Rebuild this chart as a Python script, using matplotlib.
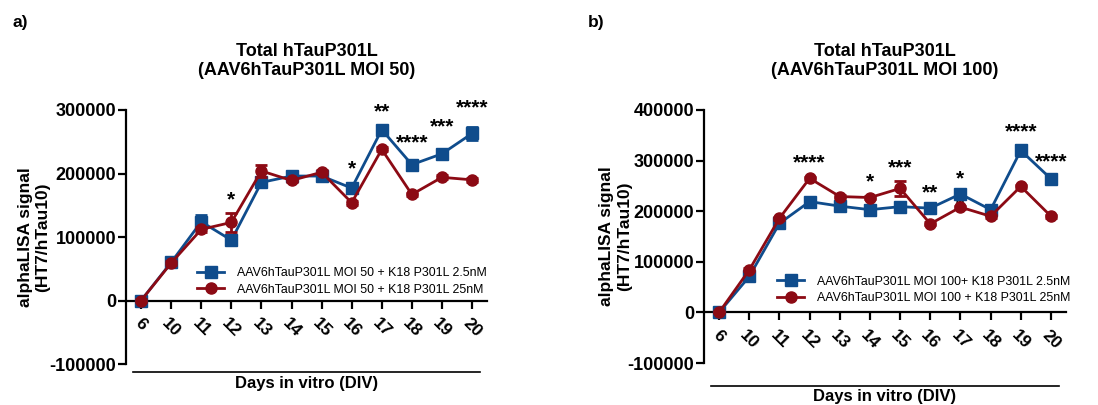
import numpy as np
import matplotlib
matplotlib.use("Agg")
import matplotlib.pyplot as plt
from matplotlib.lines import Line2D

plt.rcParams['font.family'] = ['Liberation Sans', 'DejaVu Sans']
plt.rcParams['axes.unicode_minus'] = False

# categories (days in vitro)
days = ['6', '10', '11', '12', '13', '14', '15', '16', '17', '18', '19', '20']

# panel a, MOI 50
a_low = [0, 60000, 124000, 95000, 186000, 196000, 196000, 177000, 269000, 214000, 231000, 263000]
a_low_err = [2000, 3000, 10000, 4000, 4000, 5000, 7000, 4000, 4000, 3000, 3000, 10000]
a_high = [0, 59000, 112000, 123000, 204000, 189000, 202000, 154000, 238000, 167000, 194000, 190000]
a_high_err = [2000, 3000, 4000, 15000, 9000, 3000, 3000, 3000, 3000, 3000, 3000, 3000]
a_star_idx = [3, 7, 8, 9, 10, 11]
a_star_txt = ['*', '*', '**', '****', '***', '****']
a_star_y = [150000, 198000, 288000, 239000, 264000, 295000]

# panel b, MOI 100
b_low = [0, 71000, 176000, 219000, 210000, 203000, 209000, 206000, 234000, 203000, 320000, 264000]
b_low_err = [2000, 3000, 8000, 3000, 3000, 3000, 3000, 3000, 4000, 3000, 10000, 3000]
b_high = [0, 84000, 186000, 265000, 229000, 227000, 245000, 175000, 208000, 190000, 249000, 190000]
b_high_err = [2000, 3000, 3000, 3000, 3000, 3000, 14000, 3000, 3000, 3000, 3000, 3000]
b_star_idx = [3, 5, 6, 7, 8, 8, 10, 11]
b_star_txt = ['****', '*', '***', '**', '*', '*', '****', '****']
b_star_y = [285000, 248000, 274000, 225000, 252000, 198000, 346000, 287000]

blue = '#0f4c8c'
red = '#8c0a14'


def draw_panel(ax, low, low_err, high, high_err, ylim, yticks, labels,
               star_idx, star_txt, star_y, title, leg_xy, line_y, xlab_y):
    x = np.arange(len(days))
    ax.errorbar(x, low, yerr=low_err, color=blue, marker='s', ms=8, lw=2,
                capsize=4, capthick=2, elinewidth=2, zorder=3)
    ax.errorbar(x, high, yerr=high_err, color=red, marker='o', ms=8, lw=2,
                capsize=4, capthick=2, elinewidth=2, zorder=4)

    ax.set_xlim(-0.5, len(days) - 0.5)
    ax.set_ylim(*ylim)
    ax.set_yticks(yticks)
    ax.set_yticklabels([str(v) for v in yticks], fontsize=13, fontweight='bold')
    ax.set_xticks(x)
    ax.set_xticklabels(days)

    ax.spines['top'].set_visible(False)
    ax.spines['right'].set_visible(False)
    ax.spines['bottom'].set_position(('data', 0))
    for s in ['left', 'bottom']:
        ax.spines[s].set_linewidth(1.6)
    ax.tick_params(axis='both', width=1.6, length=6, direction='out')
    ax.tick_params(axis='y', pad=1)
    ax.tick_params(axis='x', pad=5, labelrotation=-45, labelsize=12.5)
    for lab in ax.get_xticklabels():
        lab.set_ha('center')
        lab.set_fontweight('bold')

    ax.set_title(title, fontsize=13, fontweight='bold', pad=25)
    ax.set_ylabel('alphaLISA signal\n(HT7/hTau10)', fontsize=12.5, fontweight='bold')
    ax.yaxis.set_label_coords(-0.21, 0.5)

    for i, t, y in zip(star_idx, star_txt, star_y):
        ax.text(i, y, t, ha='center', va='baseline', fontsize=15, fontweight='bold')

    # line over the x-axis title
    ax.add_line(Line2D([0.02, 0.98], [line_y, line_y], transform=ax.transAxes,
                       color='black', lw=1.2, clip_on=False))
    ax.text(0.5, xlab_y, 'Days in vitro (DIV)', transform=ax.transAxes,
            ha='center', va='center', fontsize=12, fontweight='bold')

    handles = [Line2D([], [], color=blue, marker='s', ms=8, lw=2),
               Line2D([], [], color=red, marker='o', ms=8, lw=2)]
    ax.legend(handles, labels, loc='upper left', bbox_to_anchor=leg_xy, frameon=False,
              borderpad=0, borderaxespad=0, handlelength=2.2, handletextpad=1.0,
              labelspacing=0.35, prop={'size': 8.9})


fig = plt.figure(figsize=(10.98, 4.05), dpi=100)
ax1 = fig.add_axes([0.1148, 0.1012, 0.3288, 0.6272])
ax2 = fig.add_axes([0.6412, 0.1037, 0.3297, 0.6247])

draw_panel(ax1, a_low, a_low_err, a_high, a_high_err, (-100000, 300000),
           [-100000, 0, 100000, 200000, 300000],
           ['AAV6hTauP301L MOI 50 + K18 P301L 2.5nM', 'AAV6hTauP301L MOI 50 + K18 P301L 25nM'],
           a_star_idx, a_star_txt, a_star_y,
           'Total hTauP301L\n(AAV6hTauP301L MOI 50)', (0.197, 0.38), -0.031, -0.075)
draw_panel(ax2, b_low, b_low_err, b_high, b_high_err, (-100000, 400000),
           [-100000, 0, 100000, 200000, 300000, 400000],
           ['AAV6hTauP301L MOI 100+ K18 P301L 2.5nM', 'AAV6hTauP301L MOI 100 + K18 P301L 25nM'],
           b_star_idx, b_star_txt, b_star_y,
           'Total hTauP301L\n(AAV6hTauP301L MOI 100)', (0.202, 0.345), -0.091, -0.134)
ax2.yaxis.set_label_coords(-0.20, 0.5)

fig.text(0.011, 0.945, 'a)', fontsize=12.5, fontweight='bold', va='center')
fig.text(0.535, 0.945, 'b)', fontsize=12.5, fontweight='bold', va='center')

fig.savefig('out.png', dpi=100)
